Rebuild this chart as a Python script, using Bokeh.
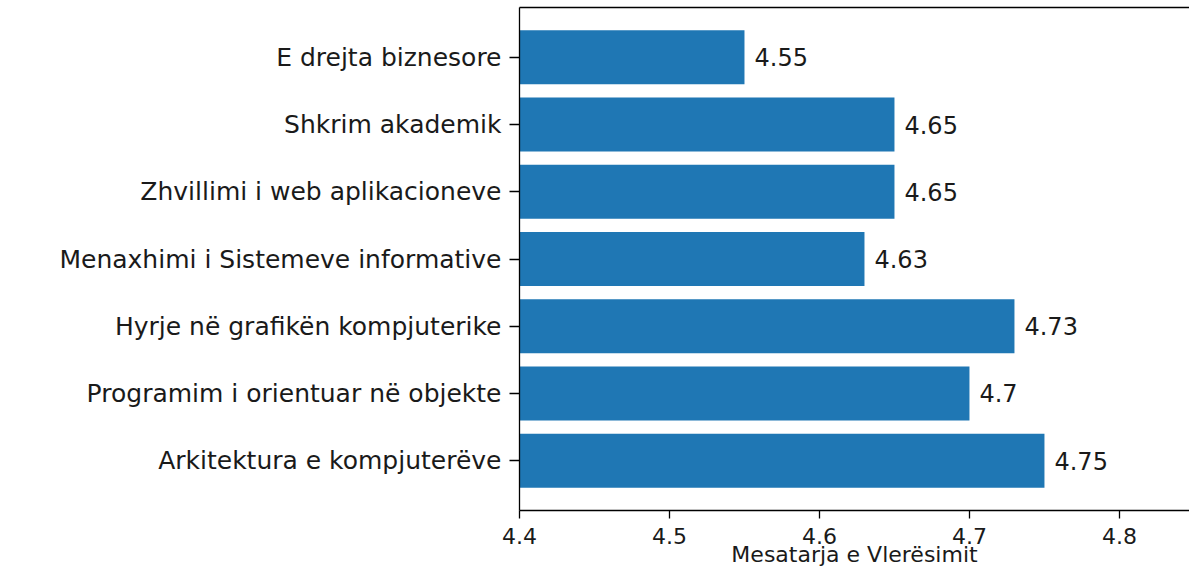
from bokeh.plotting import figure
from bokeh.models import LinearAxis, FixedTicker, Range1d, FactorRange, ColumnDataSource
from bokeh.core.properties import value
from bokeh.embed import file_html
from bokeh.resources import INLINE

categories = [
    "Arkitektura e kompjuterëve",
    "Programim i orientuar në objekte",
    "Hyrje në grafikën kompjuterike",
    "Menaxhimi i Sistemeve informative",
    "Zhvillimi i web aplikacioneve",
    "Shkrim akademik",
    "E drejta biznesore",
]
values = [4.75, 4.7, 4.73, 4.63, 4.65, 4.65, 4.55]
x_ticks = [4.4, 4.5, 4.6, 4.7, 4.8]
x_label = "Mesatarja e Vlerësimit"

FONT = "DejaVu Sans"
TXT = "#1a1a1a"

src = ColumnDataSource(dict(cat=categories, val=values, lab=[str(v) for v in values]))

p = figure(
    width=1189, height=569,
    y_range=FactorRange(factors=categories, range_padding=0.48 / 7),
    x_range=Range1d(4.4, 4.8467),
    output_backend="svg", toolbar_location=None,
    min_border_left=519, min_border_right=0, min_border_top=7, min_border_bottom=0,
)
p.outline_line_color = None
p.grid.visible = False
p.background_fill_color = "white"

p.hbar(y="cat", left=4.4, right="val", height=0.8, source=src,
       fill_color="#1f77b4", line_color=None)
p.text(x="val", y="cat", text="lab", source=src, x_offset=10,
       text_align="left", text_baseline="middle",
       text_font=value(FONT), text_font_size="24px", text_color=TXT)

xa = p.xaxis[0]
xa.ticker = FixedTicker(ticks=x_ticks)
xa.axis_label = x_label
xa.axis_label_text_font = FONT
xa.axis_label_text_font_size = "22px"
xa.axis_label_text_font_style = "normal"
xa.axis_label_text_color = TXT
xa.axis_label_standoff = -5
xa.major_label_text_font = FONT
xa.major_label_text_font_size = "22px"
xa.major_label_text_color = TXT
xa.major_label_standoff = 9
xa.major_tick_out = 8
xa.major_tick_in = 0
xa.minor_tick_line_color = None
xa.axis_line_width = 1.3
xa.major_tick_line_width = 1.3

ya = p.yaxis[0]
ya.major_label_text_font = FONT
ya.major_label_text_font_size = "25px"
ya.major_label_text_color = TXT
ya.major_label_standoff = 8
ya.major_tick_out = 10
ya.major_tick_in = 0
ya.axis_line_width = 1.3
ya.major_tick_line_width = 1.3

top = LinearAxis(major_tick_line_color=None, minor_tick_line_color=None,
                 major_label_text_font_size="0px", major_label_standoff=0,
                 axis_line_width=1.3)
top.ticker = FixedTicker(ticks=[])
p.add_layout(top, "above")

open("out.html", "w").write(file_html(p, INLINE))
